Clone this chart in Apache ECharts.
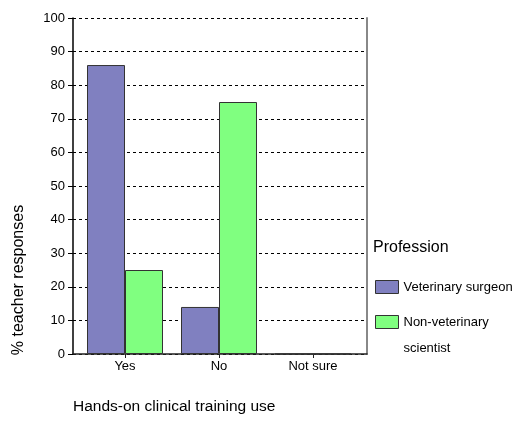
<!DOCTYPE html>
<html>
<head>
<meta charset="utf-8">
<script src="https://cdn.jsdelivr.net/npm/echarts@6/dist/echarts.min.js"></script>
<style>
  html, body { margin: 0; padding: 0; background: #fff; }
  #main { width: 524px; height: 421px; }
</style>
</head>
<body>
<div id="main"></div>
<script>
var categories = ['Yes', 'No', 'Not sure'];
var vetSurgeon = [86, 14, 0];
var nonVetScientist = [25, 75, 0];
var seriesNames = ['Veterinary surgeon', 'Non-veterinary scientist'];

var font = "'Liberation Sans', Arial, sans-serif";
var myChart = echarts.init(document.getElementById('main'), null, {renderer: 'canvas'});

var option = {
    animation: false,
    textStyle: { fontFamily: font },
    grid: [
        // frame: y axis, gridlines, border lines
        { left: 73, right: 157, top: 18, bottom: 67 },
        // bars and category labels
        { left: 78, right: 164, top: 18, bottom: 67 }
    ],
    xAxis: [
        {
            gridIndex: 0, type: 'value', min: 0, max: 1,
            axisLine: { show: true, lineStyle: { color: '#222', width: 1.5 } },
            axisTick: { show: false }, axisLabel: { show: false }, splitLine: { show: false }
        },
        {
            gridIndex: 1, type: 'category', data: categories,
            axisLine: { show: false },
            axisTick: { show: true, alignWithLabel: true, length: 4, lineStyle: { color: '#222' } },
            axisLabel: { color: '#000', fontSize: 13, margin: 6, fontFamily: font }
        }
    ],
    yAxis: [
        {
            gridIndex: 0, type: 'value', min: 0, max: 100, interval: 10,
            axisLine: { show: true, lineStyle: { color: '#000', width: 1.5 } },
            axisTick: { show: true, length: 5, lineStyle: { color: '#000' } },
            axisLabel: { color: '#000', fontSize: 13, margin: 8, fontFamily: font },
            splitLine: { show: true, lineStyle: { color: '#000', type: [3, 3], width: 1 } }
        },
        {
            gridIndex: 0, type: 'value', min: 0, max: 100, position: 'right',
            axisLine: { show: true, lineStyle: { color: '#888', width: 2 } },
            axisTick: { show: false }, axisLabel: { show: false }, splitLine: { show: false }
        },
        {
            gridIndex: 1, type: 'value', min: 0, max: 100, show: false
        }
    ],
    legend: [
        {
            data: [seriesNames[0]],
            orient: 'vertical', left: 375, top: 280, padding: 0,
            icon: 'rect', itemWidth: 23, itemHeight: 13,
            itemStyle: { borderColor: '#333', borderWidth: 1 },
            textStyle: { color: '#000', fontSize: 13, lineHeight: 13, fontFamily: font }
        },
        {
            data: [seriesNames[1]],
            orient: 'vertical', left: 375, top: 283, padding: 0,
            icon: 'rect', itemWidth: 23, itemHeight: 13,
            itemStyle: { borderColor: '#333', borderWidth: 1 },
            // blank first line keeps "Non-veterinary" level with the swatch
            formatter: function () { return ' \nNon-veterinary\nscientist'; },
            textStyle: { color: '#000', fontSize: 13, lineHeight: 26, fontFamily: font }
        }
    ],
    graphic: [
        {
            type: 'text', x: 19, y: 280, rotation: Math.PI / 2,
            style: { text: '% teacher responses', fill: '#000', font: '16px ' + font,
                     textAlign: 'center', textVerticalAlign: 'middle', align: 'center', verticalAlign: 'middle' }
        },
        {
            type: 'text', x: 73, y: 407,
            style: { text: 'Hands-on clinical training use', fill: '#000', font: '15.5px ' + font,
                     textAlign: 'left', textVerticalAlign: 'middle', align: 'left', verticalAlign: 'middle' }
        },
        {
            type: 'text', x: 373, y: 248,
            style: { text: 'Profession', fill: '#000', font: '16px ' + font,
                     textAlign: 'left', textVerticalAlign: 'middle', align: 'left', verticalAlign: 'middle' }
        }
    ],
    series: [
        {
            name: seriesNames[0], type: 'bar', xAxisIndex: 1, yAxisIndex: 2,
            data: vetSurgeon, barWidth: 38, barGap: '0%',
            itemStyle: { color: '#8080C0', borderColor: '#333', borderWidth: 1 }
        },
        {
            name: seriesNames[1], type: 'bar', xAxisIndex: 1, yAxisIndex: 2,
            data: nonVetScientist, barWidth: 38, barGap: '0%',
            itemStyle: { color: '#80FF80', borderColor: '#333', borderWidth: 1 }
        }
    ]
};
myChart.setOption(option);
</script>
</body>
</html>
